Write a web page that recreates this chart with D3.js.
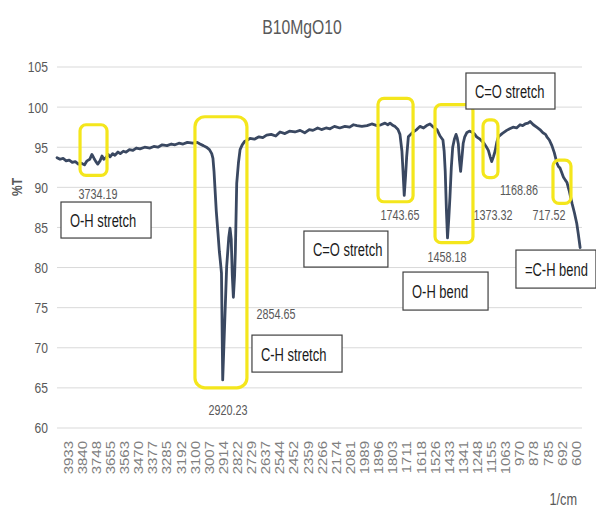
<!DOCTYPE html>
<html><head><meta charset="utf-8">
<script src="https://cdn.jsdelivr.net/npm/d3@7"></script>
<style>body{margin:0;background:#fff}</style>
</head><body>
<svg id="chart" width="596" height="512"></svg>
<script>
// ---- data ----
const wavenumber = [4005,3985,3965,3945,3925,3905,3885,3865,3845,3825,3808,3790,3776,3762,3750,3738,3723,3710,3698,3684,3670,3657,3640,3625,3605,3590,3570,3552,3530,3507,3485,3461,3430,3395,3370,3343,3315,3283,3255,3231,3205,3178,3150,3113,3085,3067,3045,3025,3005,2990,2982,2975,2969,2960,2949,2940,2934,2926,2918,2892,2878,2870,2862,2855,2848,2840,2835,2826,2815,2804,2790,2775,2755,2739,2710,2680,2655,2630,2600,2570,2542,2510,2480,2444,2410,2380,2350,2326,2295,2270,2240,2214,2185,2150,2116,2085,2060,2037,2005,1971,1940,1906,1880,1853,1835,1820,1800,1788,1768,1755,1742,1735,1727,1718,1711,1700,1685,1669,1645,1624,1600,1580,1558,1535,1512,1492,1473,1465,1458,1450,1443,1435,1427,1418,1409,1398,1387,1380,1372,1365,1357,1348,1340,1330,1317,1300,1284,1268,1252,1230,1208,1190,1175,1163,1153,1142,1131,1120,1109,1085,1055,1035,1013,990,967,950,934,915,901,880,858,837,817,800,791,775,758,742,725,715,705,695,683,670,659,645,626,610,595,585,573];
const transmittance = [93.7,93.5,93.6,93.3,93.4,93.1,93.2,92.9,93.0,92.8,93.3,93.5,94.1,93.6,93.2,92.9,93.3,93.9,93.5,93.7,94.1,93.8,94.2,94.0,94.4,94.2,94.5,94.4,94.7,94.6,94.9,94.8,95.0,94.9,95.1,95.0,95.3,95.2,95.4,95.3,95.5,95.4,95.6,95.5,95.6,95.4,95.2,95.0,94.7,94.2,93.6,92.0,90.0,87.0,84.3,82.0,80.9,79.3,66.0,80.1,83.8,84.9,83.5,79.0,76.3,79.0,82.0,90.5,93.0,94.7,95.3,95.7,95.9,96.1,96.0,96.3,96.2,96.5,96.6,96.4,96.9,96.7,97.0,96.9,97.1,96.8,97.2,97.1,97.4,97.2,97.4,97.3,97.6,97.4,97.6,97.5,97.8,97.7,97.6,97.7,97.9,97.7,97.8,98.0,97.8,98.0,97.7,97.6,97.2,96.6,94.5,92.0,89.0,91.5,93.8,96.3,96.6,96.9,97.2,97.6,97.4,97.7,97.9,97.5,97.2,96.4,95.9,94.5,92.0,87.0,83.7,86.0,88.8,92.5,95.0,96.0,96.6,96.2,95.4,93.5,92.0,93.8,95.5,96.3,96.8,97.0,96.9,96.7,96.3,96.0,95.6,95.1,94.6,93.8,93.2,93.8,94.5,95.6,96.3,96.7,97.1,97.3,97.5,97.4,97.8,97.7,97.9,98.0,98.2,97.8,97.5,97.2,96.8,96.6,96.3,95.9,95.2,94.3,93.0,92.6,92.4,91.9,91.3,90.9,90.6,89.6,88.0,86.8,85.5,84.2,82.5];
const xTickLabels = [3933,3840,3748,3655,3563,3470,3377,3285,3192,3100,3007,2914,2822,2729,2637,2544,2452,2359,2266,2174,2081,1989,1896,1803,1711,1618,1526,1433,1341,1248,1155,1063,970,878,785,692,600];
const yTickValues = [60,65,70,75,80,85,90,95,100,105];
const chartTitle = "B10MgO10";
// peak value labels: text, anchor wavenumber, anchor %T
const peakText = ["3734.19","2920.23","2854.65","1743.65","1458.18","1373.32","1168.86","717.52"];
const peakWn   = [3736, 2883, 2568, 1755, 1446, 1145, 974, 777];
const peakT    = [88.5, 61.6, 73.6, 85.9, 80.7, 85.9, 89.0, 85.9];
// highlight boxes (wavenumber range, %T range)
const hlWn0 = [3854, 3100, 1899, 1525, 1210, 751];
const hlWn1 = [3677, 2759, 1669, 1276, 1112, 633];
const hlT0  = [97.8, 98.8, 101.1, 100.3, 98.4, 93.4];
const hlT1  = [91.5, 65.0, 88.2, 83.1, 91.2, 88.0];
// group labels (wavenumber range, %T range)
const grpText = ["O-H stretch","C-H stretch","C=O stretch","C=O stretch","O-H bend","=C-H bend"];
const grpWn0 = [3979, 2726, 2385, 1322, 1735, 994];
const grpWn1 = [3388, 2135, 1834, 738, 1177, 469];
const grpT0  = [88.17, 71.58, 84.55, 104.25, 79.44, 82.18];
const grpT1  = [83.68, 66.97, 80.06, 99.76, 74.70, 77.44];

// ---- layout ----
const svg = d3.select("#chart");
const plotL = 57, plotR = 582;
const x = d3.scaleLinear().domain([3933, 600]).range([68, 576]);
const y = d3.scaleLinear().domain([60, 105]).range([428, 67]);
const FONT = "'Liberation Sans',Arial,sans-serif";
const gray = "#595959";

svg.append("text").attr("transform", `translate(302,34) scale(0.75,1)`).attr("text-anchor","middle")
  .attr("font-family", FONT).attr("font-size", 21).attr("fill", gray).text(chartTitle);

// gridlines
svg.append("g").selectAll("line").data(yTickValues).join("line")
  .attr("x1", plotL).attr("x2", plotR)
  .attr("y1", d => y(d)).attr("y2", d => y(d))
  .attr("stroke", "#d9d9d9").attr("stroke-width", 1);

// y axis labels
const yAxis = d3.axisLeft(y).tickValues(yTickValues).tickSize(0).tickPadding(0);
const gy = svg.append("g").attr("transform", `translate(${plotL - 9},0)`).call(yAxis);
gy.select(".domain").remove();
gy.selectAll(".tick text").attr("x", null).attr("transform", "scale(0.78,1)")
  .attr("font-family", FONT).attr("font-size", 15.5).attr("fill", gray);

svg.append("text").attr("transform", `translate(22,187) rotate(-90) scale(0.8,1)`)
  .attr("text-anchor","middle").attr("font-family", FONT).attr("font-size", 15)
  .attr("font-weight","bold").attr("fill", gray).text("%T");

// x axis labels
const xAxis = d3.axisBottom(x).tickValues(xTickLabels).tickFormat(d => String(d)).tickSize(0).tickPadding(0);
const gx = svg.append("g").attr("transform", `translate(0,441)`).call(xAxis);
gx.select(".domain").remove();
gx.selectAll("text")
  .attr("font-family", FONT).attr("font-size", 12).attr("fill", "#7f7f7f")
  .attr("text-anchor", "end").attr("y", 0).attr("x", 0)
  .attr("transform", "rotate(-90) scale(1.25,1)")
  .attr("dy", "0.35em");

svg.append("text").attr("transform", `translate(577,505) scale(0.75,1)`).attr("text-anchor","end")
  .attr("font-family", FONT).attr("font-size", 17).attr("fill", gray).text("1/cm");

// spectrum line
const pts = wavenumber.map((w, i) => [w, transmittance[i]]);
svg.append("path").datum(pts)
  .attr("fill", "none").attr("stroke", "#3a4861").attr("stroke-width", 2.8)
  .attr("stroke-linejoin", "round").attr("stroke-linecap", "round")
  .attr("d", d3.line().x(d => x(d[0])).y(d => y(d[1])));

// highlight boxes
svg.append("g").selectAll("rect").data(hlWn0.map((_, i) => i)).join("rect")
  .attr("x", i => x(hlWn0[i])).attr("y", i => y(hlT0[i]))
  .attr("width", i => x(hlWn1[i]) - x(hlWn0[i]))
  .attr("height", i => y(hlT1[i]) - y(hlT0[i]))
  .attr("rx", i => i === 1 ? 10 : 6).attr("fill", "none")
  .attr("stroke", "#f4e61c").attr("stroke-width", 3.2);

// peak labels
svg.append("g").selectAll("text").data(peakText).join("text")
  .attr("transform", (d, i) => `translate(${x(peakWn[i])},${y(peakT[i])}) scale(0.72,1)`)
  .attr("text-anchor", "middle").attr("font-family", FONT).attr("font-size", 15)
  .attr("fill", gray).text(d => d);

// group label boxes
const grp = svg.append("g").selectAll("g").data(grpText).join("g");
grp.append("rect")
  .attr("x", (d, i) => x(grpWn0[i])).attr("y", (d, i) => y(grpT0[i]))
  .attr("width", (d, i) => x(grpWn1[i]) - x(grpWn0[i]))
  .attr("height", (d, i) => y(grpT1[i]) - y(grpT0[i]))
  .attr("fill", "#fff").attr("stroke", "#404040").attr("stroke-width", 1.2);
grp.append("text")
  .attr("transform", (d, i) => `translate(${x(grpWn0[i]) + 9},${(y(grpT0[i]) + y(grpT1[i])) / 2 + 7}) scale(0.7,1)`)
  .attr("font-family", FONT).attr("font-size", 18.5).attr("fill", "#1a1a1a").text(d => d);
</script>
</body></html>
